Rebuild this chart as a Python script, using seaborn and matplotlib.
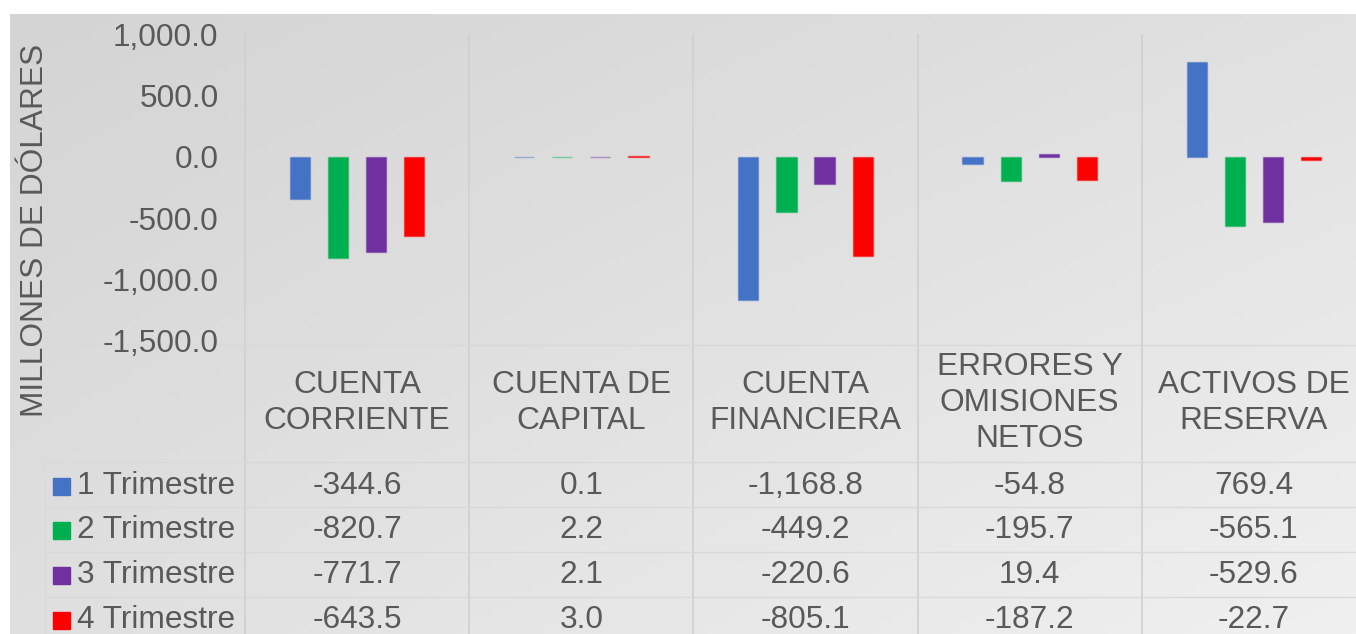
import numpy as np
import pandas as pd
import matplotlib
matplotlib.use("Agg")
import matplotlib.pyplot as plt
import matplotlib.transforms as mtransforms
from matplotlib.colors import to_rgba
from matplotlib.lines import Line2D
from matplotlib.patches import Rectangle
import seaborn as sns

# data
categories = ["CUENTA\nCORRIENTE", "CUENTA DE\nCAPITAL", "CUENTA\nFINANCIERA",
              "ERRORES Y\nOMISIONES\nNETOS", "ACTIVOS DE\nRESERVA"]
quarters = ["1 Trimestre", "2 Trimestre", "3 Trimestre", "4 Trimestre"]
q1 = [-344.6, 0.1, -1168.8, -54.8, 769.4]
q2 = [-820.7, 2.2, -449.2, -195.7, -565.1]
q3 = [-771.7, 2.1, -220.6, 19.4, -529.6]
q4 = [-643.5, 3.0, -805.1, -187.2, -22.7]
colors = ["#4472C4", "#00B050", "#7030A0", "#FF0000"]

series = [q1, q2, q3, q4]
df = pd.DataFrame({
    "cat": [c for _ in quarters for c in categories],
    "q": [q for q in quarters for _ in categories],
    "val": [v for s in series for v in s],
})

W, H = 1356, 634
fig = plt.figure(figsize=(W / 100, H / 100), dpi=100)
fig.patch.set_facecolor("white")
txt = "#595959"
font = "Liberation Sans"
fs = 22.8


def fy(py):
    return 1 - py / H


# gradient background panel
bg = fig.add_axes([10 / W, 0, 1, fy(14)], zorder=-5)
gx, gy = np.meshgrid(np.linspace(0, 1, 200), np.linspace(0, 1, 100))
grad = 0.4 * gx + 0.35 * gy + 0.1 * gx * gy
bg.imshow(grad, cmap=matplotlib.colors.LinearSegmentedColormap.from_list(
    "g", ["#d4d4d4", "#f0f0f0"]), aspect="auto", extent=[0, 1, 1, 0], vmin=0, vmax=0.85)
bg.axis("off")

# bars axes
left, colw = 245, 224.2
ax = fig.add_axes([left / W, fy(341), 5 * colw / W, fy(34) - fy(341)])
ax.patch.set_alpha(0)
sns.barplot(data=df, x="cat", y="val", hue="q", palette=colors, order=categories,
            hue_order=quarters, width=0.68, gap=0.47, ax=ax, legend=False,
            saturation=1, linewidth=1.0)
# lighter outline like the original
for p in ax.patches:
    r, g, b, _ = p.get_facecolor()
    p.set_edgecolor((r, g, b, 0.45))

ax.set_xlim(-0.5, 4.5)
ax.set_ylim(-1500, 1000)
ax.set_yticks([-1500, -1000, -500, 0, 500, 1000])
ax.set_yticklabels([f"{t:,.1f}" for t in [-1500, -1000, -500, 0, 500, 1000]],
                   fontsize=fs, color=txt, fontfamily=font)
ax.tick_params(axis="y", length=0, pad=19)
ax.set_xticks([])
ax.set_xlabel("")
ax.set_ylabel("")
for s in ax.spines.values():
    s.set_visible(False)

fig.text(35 / W, fy(230), "MILLONES DE DÓLARES", rotation=90, ha="center", va="center",
         fontsize=fs, color=txt, fontfamily=font)

# grid lines of chart and table
for k in range(6):
    x = (left + k * colw) / W
    fig.add_artist(Line2D([x, x], [0, fy(35)], color="#cfcfcf", lw=1.2, zorder=0))
for py in [345, 462, 507, 552, 597]:
    fig.add_artist(Line2D([45 / W, 1], [fy(py), fy(py)], color="#d9d9d9", lw=1.0, zorder=0))
fig.add_artist(Line2D([45 / W, 45 / W], [0, fy(462)], color="#d9d9d9", lw=1.0, zorder=0))

trans = mtransforms.blended_transform_factory(ax.transData, fig.transFigure)
for i, c in enumerate(categories):
    ax.text(i, fy(403), c, transform=trans, ha="center", va="center", fontsize=fs,
            color=txt, fontfamily=font, linespacing=1.26, clip_on=False)

row_y = [486, 530, 575, 620]
for r, (q, s, col) in enumerate(zip(quarters, series, colors)):
    yy = fy(row_y[r])
    fig.add_artist(Rectangle((53 / W, yy - 8.5 / H), 17 / W, 17 / H, color=col,
                             transform=fig.transFigure))
    fig.text(77 / W, yy, q, ha="left", va="center", fontsize=fs, color=txt, fontfamily=font)
    for i, v in enumerate(s):
        ax.text(i, yy, f"{v:,.1f}", transform=trans, ha="center", va="center",
                fontsize=fs, color=txt, fontfamily=font, clip_on=False)

fig.savefig("out.png", dpi=100)
